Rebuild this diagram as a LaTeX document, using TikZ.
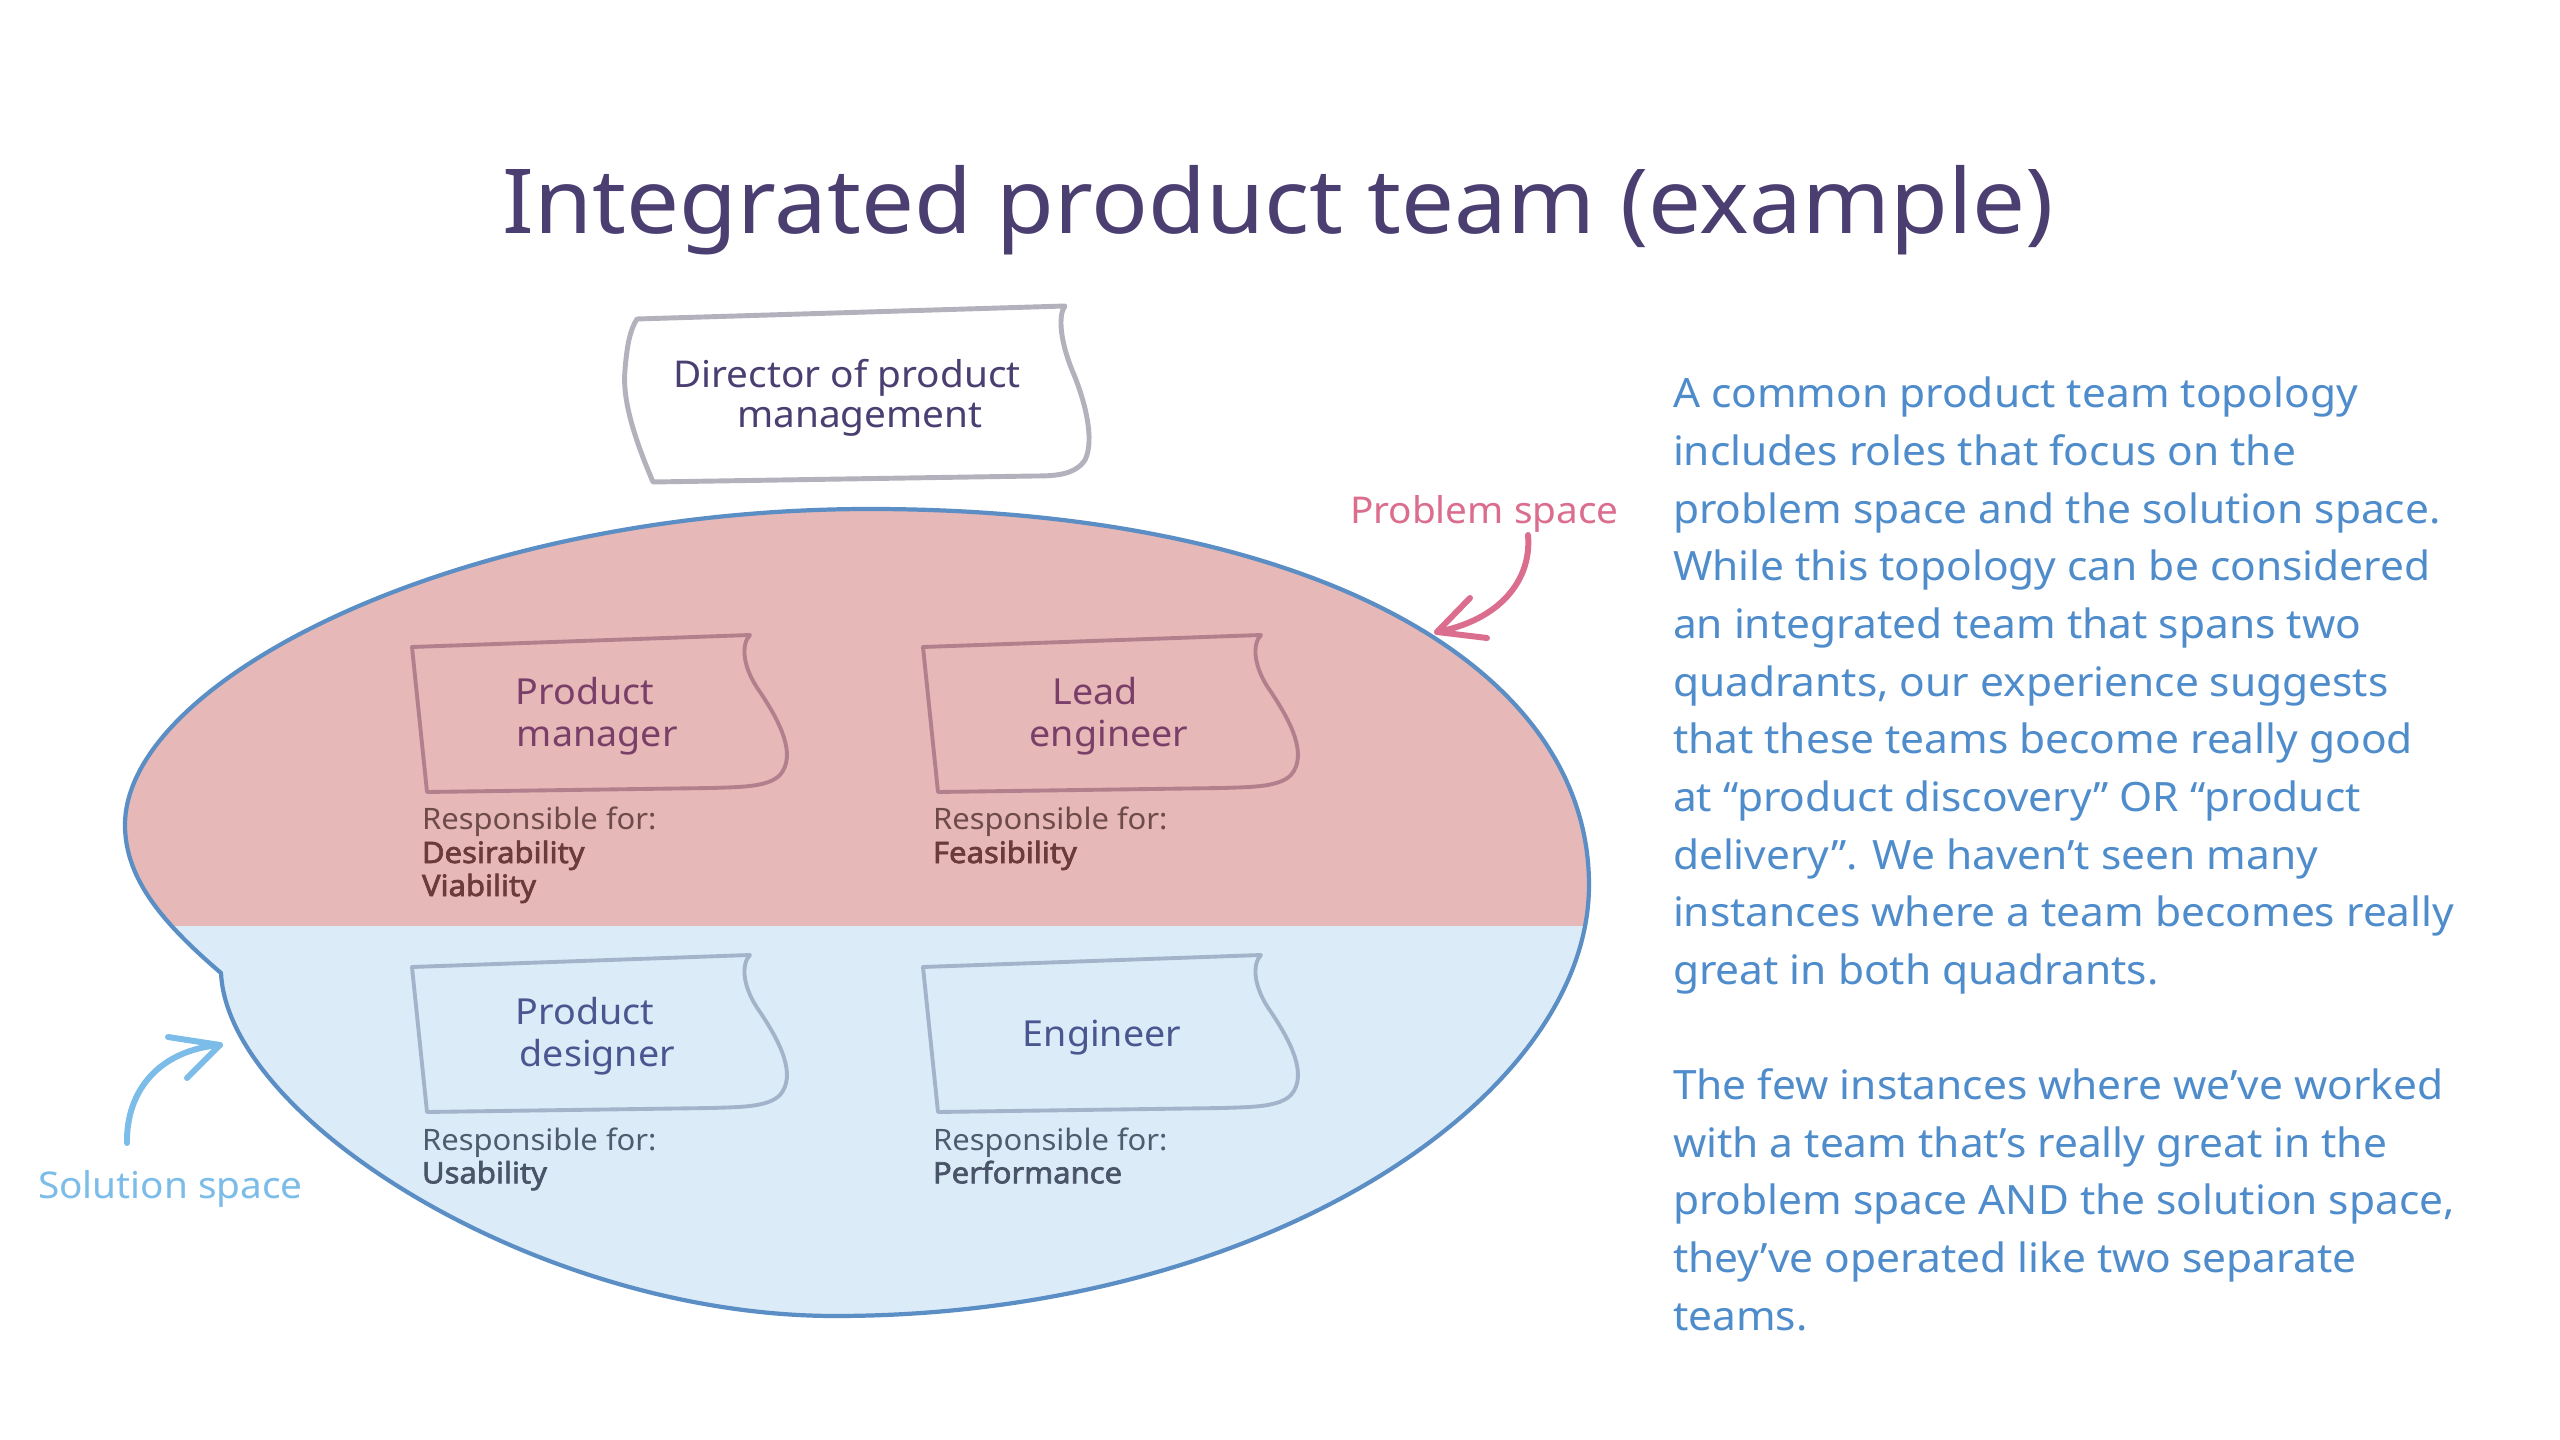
\documentclass[tikz,border=0pt]{standalone}
\usepackage{fontspec}
\setmainfont{Noto Sans}[FakeStretch=1.05,AutoFakeBold=2.2]
\definecolor{titlec}{HTML}{4B3F72}
\definecolor{pinkfill}{HTML}{E6B8B7}
\definecolor{bluefill}{HTML}{DCEBF8}
\definecolor{outlinec}{HTML}{5B8EC4}
\definecolor{dirline}{HTML}{B3B1BB}
\definecolor{topline}{HTML}{B27F8C}
\definecolor{botline}{HTML}{A3B3C9}
\definecolor{toptext}{HTML}{7A3F68}
\definecolor{bottext}{HTML}{4B5590}
\definecolor{topresp}{HTML}{6E4B4B}
\definecolor{topbold}{HTML}{6B3A3A}
\definecolor{botresp}{HTML}{4F5B6E}
\definecolor{botbold}{HTML}{4A5468}
\definecolor{probc}{HTML}{DB6E8E}
\definecolor{solc}{HTML}{7CBCE8}
\definecolor{parac}{HTML}{4F8CCB}
\newcommand\mlines[2]{\begin{tabular}[t]{@{}#1@{}}#2\end{tabular}}
\newcommand\rolebox[2]{\draw[#1,shift={#2}] (0,0) -- (338,-12)
  .. controls (329,-3) and (330,20) .. (348,45)
  .. controls (368,75) and (385,108) .. (368,128)
  .. controls (356,140) and (330,140) .. (300,141) -- (15,145) -- cycle;}
\begin{document}
\begin{tikzpicture}[x=0.1mm,y=-0.1mm,
  every node/.style={inner sep=0pt,outer sep=0pt},
  titletext/.style={text=titlec,font=\fontsize{25.5}{30}\selectfont},
  dirtext/.style={text=titlec,font=\fontsize{10.5}{11.1}\selectfont},
  roletop/.style={text=toptext,font=\fontsize{10.2}{11.9}\selectfont},
  rolebot/.style={text=bottext,font=\fontsize{10.2}{11.9}\selectfont},
  resptop/.style={text=topresp,font=\fontsize{8.4}{9.4}\selectfont},
  respbot/.style={text=botresp,font=\fontsize{8.4}{9.2}\selectfont},
  boxtop/.style={draw=topline,line width=1.1pt,line join=round},
  boxbot/.style={draw=botline,line width=1.1pt,line join=round},
  parrow/.style={draw=probc,line width=1.7pt,line cap=round,line join=round},
  sarrow/.style={draw=solc,line width=1.7pt,line cap=round,line join=round},
  paratext/.style={text=parac,font=\fontsize{11.5}{16.4}\selectfont}]
\useasboundingbox (0,0) rectangle (2560,1440);
\fill[white] (0,0) rectangle (2560,1440);

% title
\node[titletext,anchor=base] (ttl) at (1278,234) {Integrated product team (example)};

% director box
\draw[draw=dirline,line width=1.4pt,line join=round]
  (637,319) -- (1065,306)
  .. controls (1058,315) and (1060,340) .. (1072,370)
  .. controls (1085,400) and (1095,440) .. (1085,460)
  .. controls (1075,475) and (1055,476) .. (1035,476)
  -- (653,482)
  .. controls (635,440) and (622,400) .. (625,370)
  .. controls (627,345) and (630,330) .. (637,319) -- cycle;
\node[dirtext,anchor=base] (dir) at (847,388) {\mlines{c}{Director of product\\\hspace*{7.4pt}management}};

% team blob
\begin{scope}
\clip (125,825) .. controls (125,680) and (460,509) .. (870,509)
  .. controls (1300,509) and (1589,660) .. (1589,885)
  .. controls (1589,1100) and (1260,1316) .. (835,1316)
  .. controls (540,1316) and (228,1120) .. (221,973)
  .. controls (165,925) and (125,880) .. (125,825) -- cycle;
\fill[pinkfill] (0,0) rectangle (2560,926);
\fill[bluefill] (0,926) rectangle (2560,1440);
\end{scope}
\draw[draw=outlinec,line width=1.2pt,line join=round]
  (125,825) .. controls (125,680) and (460,509) .. (870,509)
  .. controls (1300,509) and (1589,660) .. (1589,885)
  .. controls (1589,1100) and (1260,1316) .. (835,1316)
  .. controls (540,1316) and (228,1120) .. (221,973)
  .. controls (165,925) and (125,880) .. (125,825) -- cycle;

% role boxes
\rolebox{boxtop}{(412,647)}
\rolebox{boxtop}{(923,647)}
\rolebox{boxbot}{(412,967)}
\rolebox{boxbot}{(923,967)}

\node[roletop,anchor=base] (pm) at (585,705) {\mlines{c}{Product\\\hspace*{7pt}manager}};
\node[roletop,anchor=base] (le) at (1095,705) {\mlines{c}{Lead\\\hspace*{8pt}engineer}};
\node[rolebot,anchor=base] (pd) at (585,1025) {\mlines{c}{Product\\\hspace*{7pt}designer}};
\node[rolebot,anchor=base] (en) at (1102,1047) {Engineer};

\node[resptop,anchor=base west] (pmr) at (422,830) {\mlines{l}{Responsible for:\\\textbf{\color{topbold}Desirability}\\\textbf{\color{topbold}Viability}}};
\node[resptop,anchor=base west] (ler) at (933,830) {\mlines{l}{Responsible for:\\\textbf{\color{topbold}Feasibility}}};
\node[respbot,anchor=base west] (pdr) at (422,1151) {\mlines{l}{Responsible for:\\\textbf{\color{botbold}Usability}}};
\node[respbot,anchor=base west] (enr) at (933,1151) {\mlines{l}{Responsible for:\\\textbf{\color{botbold}Performance}}};

% labels and arrows
\node[text=probc,font=\fontsize{10.5}{12}\selectfont,anchor=base west] (ps) at (1350,524) {Problem space};
\coordinate (psa) at (1528,535);
\coordinate (pst) at (1437,632);
\draw[parrow] (psa) .. controls (1532,580) and (1500,620) .. (pst);
\draw[parrow] (1470,598) -- (pst) -- (1487,638);

\node[text=solc,font=\fontsize{10.5}{12}\selectfont,anchor=base west] (ss) at (38,1198) {Solution space};
\coordinate (ssa) at (127,1143);
\coordinate (sst) at (220,1045);
\draw[sarrow] (ssa) .. controls (126,1090) and (160,1050) .. (sst);
\draw[sarrow] (168,1037) -- (sst) -- (187,1078);

% paragraph
\node[paratext,anchor=base west] (txt) at (1673,408) {\mlines{l}{%
A common product team topology\\
includes roles that focus on the\\
problem space and the solution space.\\
While this topology can be considered\\
an integrated team that spans two\\
quadrants, our experience suggests\\
that these teams become really good\\
at “product discovery” OR “product\\
delivery”. We haven’t seen many\\
instances where a team becomes really\\
great in both quadrants.\\
\\
The few instances where we’ve worked\\
with a team that’s really great in the\\
problem space AND the solution space,\\
they’ve operated like two separate\\
teams.}};
\end{tikzpicture}
\end{document}
